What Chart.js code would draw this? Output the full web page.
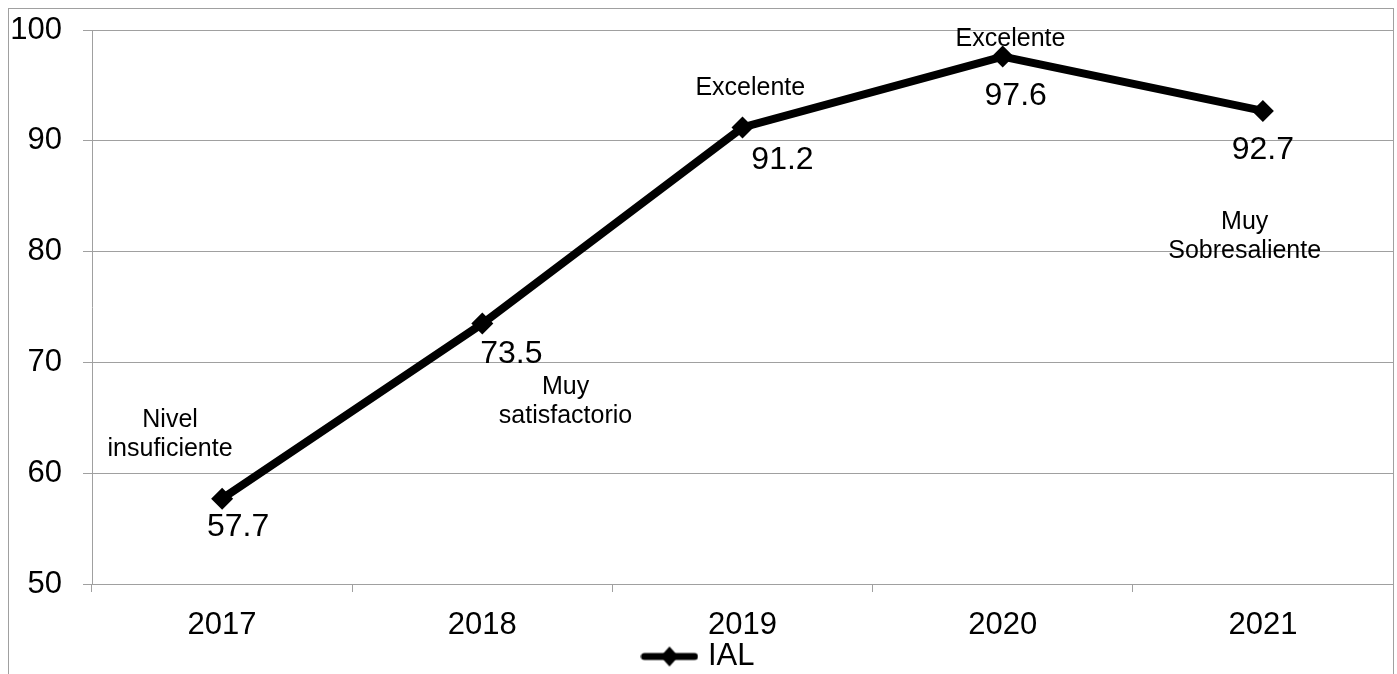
<!DOCTYPE html>
<html>
<head>
<meta charset="utf-8">
<script src="https://cdn.jsdelivr.net/npm/chart.js@4/dist/chart.umd.min.js"></script>
<style>
  html, body { margin: 0; padding: 0; background: #fff; }
  canvas { display: block; }
</style>
</head>
<body>
<canvas id="chart_ial" width="1397" height="674"></canvas>
<script>
// chart data
const years = ["2017", "2018", "2019", "2020", "2021"];
const ialValues = [57.7, 73.5, 91.2, 97.6, 92.7];
const yTicks = [50, 60, 70, 80, 90, 100];
// text notes written next to each point
const notes = [["Nivel", "insuficiente"], ["Muy", "satisfactorio"], ["Excelente"], ["Excelente"], ["Muy", "Sobresaliente"]];

const fontFamily = "'Liberation Sans', Arial, sans-serif";
const gridColor = "#a0a0a0";

// legend symbol: line with a diamond in the middle
function legendSymbol() {
  const c = document.createElement("canvas");
  c.width = 58;
  c.height = 24;
  const g = c.getContext("2d");
  g.strokeStyle = "#000";
  g.lineWidth = 7;
  g.lineCap = "round";
  g.beginPath();
  g.moveTo(4, 12);
  g.lineTo(54, 12);
  g.stroke();
  g.fillStyle = "#000";
  g.beginPath();
  g.moveTo(29, 2);
  g.lineTo(38, 12);
  g.lineTo(29, 22);
  g.lineTo(20, 12);
  g.closePath();
  g.fill();
  return c;
}

// grey frame round the whole picture
const framePlugin = {
  id: "frame",
  beforeDraw(chart) {
    const ctx = chart.ctx;
    ctx.save();
    ctx.strokeStyle = gridColor;
    ctx.lineWidth = 1;
    ctx.strokeRect(8.5, 8.5, 1385, 700);
    ctx.restore();
  },
};

// value labels and text notes
const labelPlugin = {
  id: "labels",
  afterDatasetsDraw(chart) {
    const ctx = chart.ctx;
    const x = chart.scales.x;
    const y = chart.scales.y;
    const meta = chart.getDatasetMeta(0);
    // offsets (px) of the value labels from their points
    const offsets = [[16, 28], [29, 31], [40, 33], [13, 40], [0, 39]];
    ctx.save();
    ctx.fillStyle = "#000";
    ctx.textAlign = "center";
    ctx.textBaseline = "middle";
    ctx.font = "32px " + fontFamily;
    meta.data.forEach((pt, i) => {
      ctx.fillText(String(ialValues[i]), pt.x + offsets[i][0], pt.y + offsets[i][1]);
    });
    // note positions, in axis units (category index, value)
    const notePos = [[-0.2, 63.45], [1.32, 66.45], [2.03, 94.8], [3.03, 99.2], [3.93, 81.35]];
    ctx.font = "25px " + fontFamily;
    notes.forEach((lines, i) => {
      const cx = x.getPixelForValue(notePos[i][0]);
      const cy = y.getPixelForValue(notePos[i][1]);
      const lh = 29;
      lines.forEach((t, j) => {
        ctx.fillText(t, cx, cy + (j - (lines.length - 1) / 2) * lh);
      });
    });
    ctx.restore();
  },
};

const ctx = document.getElementById("chart_ial").getContext("2d");

const chart = new Chart(ctx, {
  type: "line",
  data: {
    labels: years,
    datasets: [
      {
        label: "IAL",
        data: ialValues,
        borderColor: "#000",
        backgroundColor: "#000",
        borderWidth: 8,
        tension: 0,
        pointStyle: "rectRot",
        pointRadius: 11,
        pointBackgroundColor: "#000",
        pointBorderColor: "#000",
        pointBorderWidth: 0,
      },
    ],
  },
  options: {
    responsive: false,
    animation: false,
    devicePixelRatio: 1,
    layout: {
      autoPadding: false,
      padding: { left: 8, right: 4, top: 30, bottom: -8 },
    },
    plugins: {
      tooltip: { enabled: false },
      legend: {
        position: "bottom",
        labels: {
          usePointStyle: true,
          pointStyle: legendSymbol(),
          pointStyleWidth: 46,
          color: "#000",
          padding: 4,
          font: { family: fontFamily, size: 31, lineHeight: 1 },
        },
      },
    },
    scales: {
      x: {
        offset: true,
        grid: {
          offset: true,
          drawOnChartArea: false,
          tickLength: 8,
          color: gridColor,
        },
        border: { color: gridColor },
        ticks: {
          color: "#000",
          padding: 15,
          font: { family: fontFamily, size: 31 },
        },
        afterFit(scale) {
          scale.height = 53;
          scale.paddingLeft = 0;
          scale.paddingRight = 0;
        },
      },
      y: {
        min: 50,
        max: 100,
        afterBuildTicks(scale) {
          scale.ticks = yTicks.map((v) => ({ value: v }));
        },
        grid: {
          color: gridColor,
          tickLength: 9,
        },
        border: { color: gridColor },
        ticks: {
          color: "#000",
          padding: 21,
          font: { family: fontFamily, size: 31 },
        },
        afterFit(scale) {
          scale.width = 84;
          scale.paddingTop = 0;
          scale.paddingBottom = 0;
        },
      },
    },
  },
  plugins: [framePlugin, labelPlugin],
});
</script>
</body>
</html>
